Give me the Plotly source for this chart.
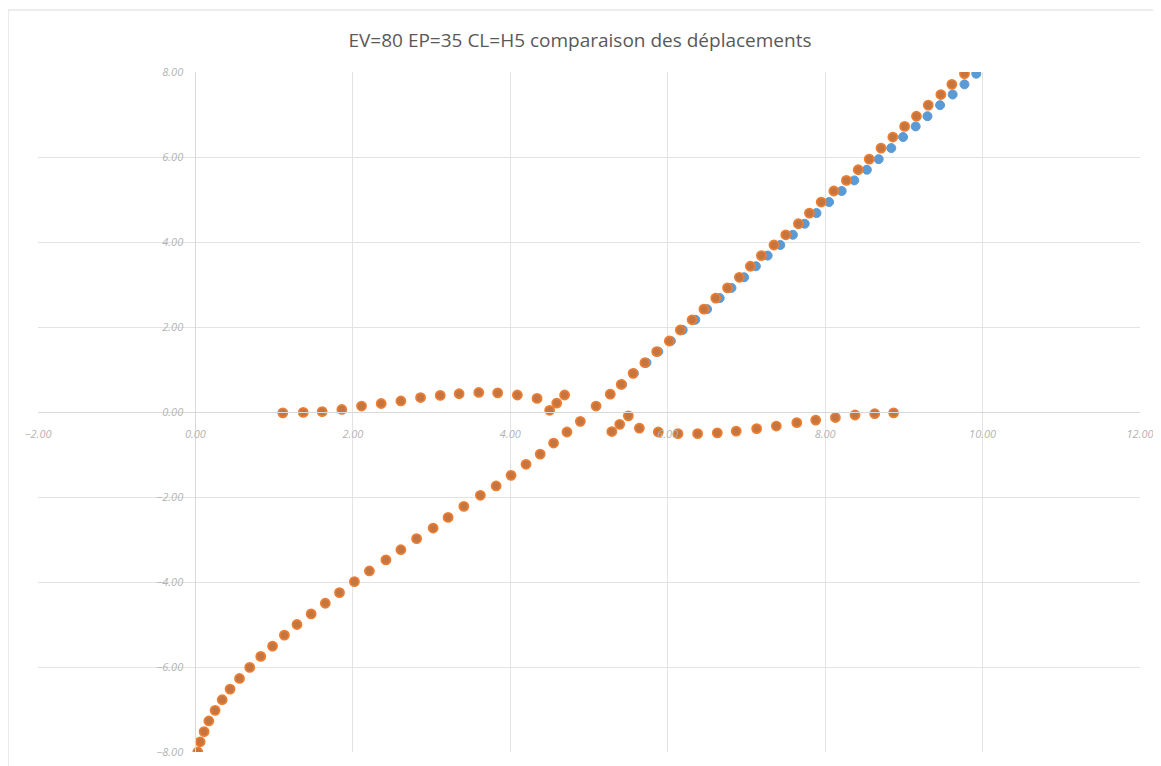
import plotly.graph_objects as go

# ---- data ----
blue_x = [5.27, 5.42, 5.57, 5.73, 5.88, 6.04, 6.19, 6.35, 6.50, 6.66, 6.81, 6.97, 7.12, 7.27,
          7.43, 7.59, 7.74, 7.89, 8.05, 8.21, 8.37, 8.53, 8.68, 8.84, 8.99, 9.15, 9.30, 9.46,
          9.62, 9.77, 9.92]
blue_y = [0.42, 0.65, 0.91, 1.16, 1.42, 1.67, 1.93, 2.17, 2.42, 2.68, 2.92, 3.17, 3.43, 3.68,
          3.93, 4.17, 4.43, 4.68, 4.94, 5.20, 5.45, 5.70, 5.95, 6.21, 6.47, 6.72, 6.96, 7.22,
          7.47, 7.71, 7.96]

# main orange curve (bottom-left to top-right)
orange_x = [0.03, 0.06, 0.11, 0.17, 0.25, 0.34, 0.44, 0.56, 0.69, 0.83, 0.98, 1.13, 1.29, 1.47,
            1.65, 1.83, 2.02, 2.21, 2.42, 2.61, 2.81, 3.02, 3.21, 3.41, 3.62, 3.82, 4.01, 4.20,
            4.38, 4.55, 4.72, 4.89, 5.09, 5.27, 5.41, 5.56, 5.71, 5.86, 6.02, 6.16, 6.31, 6.46,
            6.61, 6.76, 6.91, 7.05, 7.19, 7.35, 7.50, 7.66, 7.80, 7.95, 8.11, 8.27, 8.42, 8.56,
            8.71, 8.86, 9.01, 9.16, 9.31, 9.47, 9.61, 9.77]
orange_y = [-8.00, -7.76, -7.52, -7.27, -7.02, -6.77, -6.52, -6.27, -6.01, -5.75, -5.51, -5.25,
            -5.00, -4.75, -4.50, -4.25, -3.99, -3.74, -3.48, -3.24, -2.98, -2.73, -2.48, -2.22,
            -1.96, -1.74, -1.49, -1.23, -0.99, -0.73, -0.47, -0.22, 0.14, 0.42, 0.65, 0.91,
            1.16, 1.42, 1.67, 1.93, 2.17, 2.42, 2.68, 2.92, 3.17, 3.43, 3.68, 3.93, 4.17, 4.43,
            4.68, 4.94, 5.20, 5.45, 5.70, 5.95, 6.21, 6.47, 6.72, 6.96, 7.22, 7.47, 7.71, 7.96]

# orange wave, upper-left
wave1_x = [1.11, 1.37, 1.61, 1.86, 2.11, 2.36, 2.61, 2.86, 3.11, 3.35, 3.60, 3.84, 4.09, 4.34,
           4.50, 4.59, 4.69]
wave1_y = [-0.02, -0.01, 0.01, 0.06, 0.14, 0.20, 0.26, 0.34, 0.39, 0.43, 0.46, 0.45, 0.40, 0.32,
           0.04, 0.21, 0.40]

# orange wave, lower-right
wave2_x = [5.29, 5.39, 5.50, 5.64, 5.88, 6.13, 6.38, 6.63, 6.87, 7.13, 7.38, 7.64, 7.88, 8.13,
           8.38, 8.63, 8.87]
wave2_y = [-0.46, -0.29, -0.09, -0.38, -0.47, -0.51, -0.51, -0.49, -0.45, -0.39, -0.33, -0.25,
           -0.19, -0.13, -0.07, -0.04, -0.02]

x_ticks = [-2, 0, 2, 4, 6, 8, 10, 12]
y_ticks = [-8, -6, -4, -2, 0, 2, 4, 6, 8]

title_text = "EV=80 EP=35 CL=H5 comparaison des déplacements"

# ---- figure ----
BLUE = "#5B9BD5"
ORANGE = "#ED7D31"
ORANGE_CORE = "#C57540"

fig = go.Figure()
fig.add_trace(go.Scatter(x=blue_x, y=blue_y, mode="markers",
                         marker=dict(size=9, color=BLUE, line=dict(color=BLUE, width=1)),
                         showlegend=False))
orange_marker = dict(size=9, color=ORANGE_CORE, line=dict(color=ORANGE, width=1.8))
for xs, ys in [(orange_x, orange_y), (wave1_x, wave1_y), (wave2_x, wave2_y)]:
    fig.add_trace(go.Scatter(x=xs, y=ys, mode="markers", marker=orange_marker,
                             showlegend=False))

tick_font = dict(family="Open Sans", size=11, color="#B3B3B3", style="italic")
grid_c = "#E3E3E3"

# page has an 8px body margin: figure placed at (8, 8)
W, H = 1153, 758
L, T = 30, 64
PW, PH = 1102, 680

fig.update_layout(
    width=W, height=H,
    margin=dict(l=L, r=W - L - PW, t=T, b=H - T - PH),
    paper_bgcolor="white", plot_bgcolor="white",
    title=dict(text=title_text, x=(580 - 8) / W, xref="container", xanchor="center",
               y=1 - 32 / H, yref="container", yanchor="middle",
               font=dict(family="Open Sans", size=19, color="#595959")),
    xaxis=dict(range=[-2, 12], tickvals=x_ticks, tickformat=".2f",
               showgrid=True, gridcolor=grid_c, gridwidth=1, zeroline=False,
               showline=True, linecolor="#D9D9D9", linewidth=1,
               ticks="", ticklabelstandoff=12,
               anchor="free", position=0.5, tickfont=tick_font, automargin=False),
    yaxis=dict(range=[-8, 8], tickvals=y_ticks, tickformat=".2f",
               showgrid=True, gridcolor=grid_c, gridwidth=1, zeroline=False,
               showline=True, linecolor="#D9D9D9", linewidth=1,
               ticks="", ticklabelstandoff=10,
               anchor="free", position=1 / 7, tickfont=tick_font, automargin=False),
    shapes=[dict(type="rect", xref="paper", yref="paper",
                 x0=(0 - L) / PW, x1=(W + 10 - L) / PW,
                 y0=(T + PH - (H + 20)) / PH, y1=(T + PH - 2) / PH,
                 line=dict(color="#D9D9D9", width=1), fillcolor="rgba(0,0,0,0)",
                 layer="below")],
)

fig.write_html("out.html")
